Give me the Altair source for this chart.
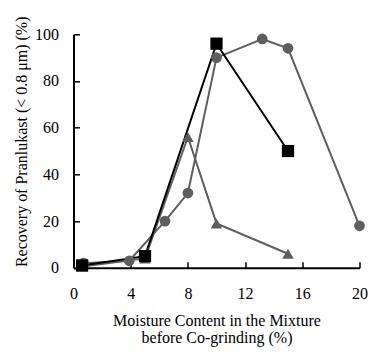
import altair as alt
import pandas as pd

# Circles series
circle_x = [0.7, 3.9, 6.4, 8.0, 10.0, 13.2, 15.0, 20.0]
circle_y = [2, 3, 20, 32, 90, 98, 94, 18]
# Squares series
square_x = [0.6, 5.0, 10.0, 15.0]
square_y = [1, 5, 96, 50]
# Triangles series
tri_x = [0.6, 5.0, 8.0, 10.0, 15.0]
tri_y = [0.5, 4, 56, 19, 6]

x_ticks = [0, 4, 8, 12, 16, 20]
y_ticks = [0, 20, 40, 60, 80, 100]

rows = []
for s, xs_, ys_ in [("circle", circle_x, circle_y), ("triangle", tri_x, tri_y), ("square", square_x, square_y)]:
    for x, y in zip(xs_, ys_):
        rows.append({"series": s, "x": x, "y": y})
df = pd.DataFrame(rows)

W, H = 286, 233.5
FONT = "Liberation Serif"

color_scale = alt.Scale(domain=["circle", "triangle", "square"], range=["#5e5e5e", "#5e5e5e", "#000000"])
shape_scale = alt.Scale(domain=["circle", "triangle", "square"], range=["circle", "triangle-up", "square"])
size_scale = alt.Scale(domain=["circle", "triangle", "square"], range=[115, 150, 110])

xs = alt.Scale(domain=[0, 20], nice=False, zero=False)
ys = alt.Scale(domain=[0, 100], nice=False)

main_x_axis = alt.Axis(orient="bottom", values=x_ticks, ticks=False, domain=True, domainColor="black", domainWidth=2,
                       labelFont=FONT, labelFontSize=16, labelColor="black", labelPadding=18,
                       title=["Moisture Content in the Mixture", "before Co-grinding (%)"],
                       titleFont=FONT, titleFontSize=16, titleFontWeight="normal", titleColor="black",
                       titlePadding=11, titleLineHeight=17, grid=False, labelFlush=False)
main_y_axis = alt.Axis(orient="left", values=y_ticks, ticks=False, domain=True, domainColor="black", domainWidth=2,
                       labelFont=FONT, labelFontSize=16, labelColor="black", labelPadding=15,
                       title="Recovery of  Pranlukast (< 0.8 μm) (%)",
                       titleFont=FONT, titleFontSize=16, titleFontWeight="normal", titleColor="black",
                       titlePadding=5, titleY=107, grid=False, labelFlush=False)

lines = alt.Chart(df).mark_line(strokeWidth=2).encode(
    x=alt.X("x:Q", scale=xs, axis=main_x_axis),
    y=alt.Y("y:Q", scale=ys, axis=main_y_axis),
    color=alt.Color("series:N", scale=color_scale, legend=None),
    detail="series:N",
)

tick_x_axis = alt.Axis(orient="top", offset=-H, values=x_ticks, ticks=True, tickSize=6, tickWidth=1.5,
                       tickColor="black", labels=False, domain=False, title=None, grid=False)
tick_y_axis = alt.Axis(orient="right", offset=-W, values=y_ticks, ticks=True, tickSize=6, tickWidth=1.5,
                       tickColor="black", labels=False, domain=False, title=None, grid=False)

points = alt.Chart(df).mark_point(filled=True, opacity=1, strokeWidth=0).encode(
    x=alt.X("x:Q", scale=xs, axis=tick_x_axis),
    y=alt.Y("y:Q", scale=ys, axis=tick_y_axis),
    color=alt.Color("series:N", scale=color_scale, legend=None),
    shape=alt.Shape("series:N", scale=shape_scale, legend=None),
    size=alt.Size("series:N", scale=size_scale, legend=None),
)

chart = alt.layer(lines, points).properties(
    width=W, height=H,
    background="white",
    autosize=alt.AutoSizeParams(type="none"),
    padding={"left": 65.5, "top": 26.3, "right": 9, "bottom": 81},
).configure_view(stroke=None)

chart.save("out.html", embed_options={"renderer": "svg", "actions": False})
